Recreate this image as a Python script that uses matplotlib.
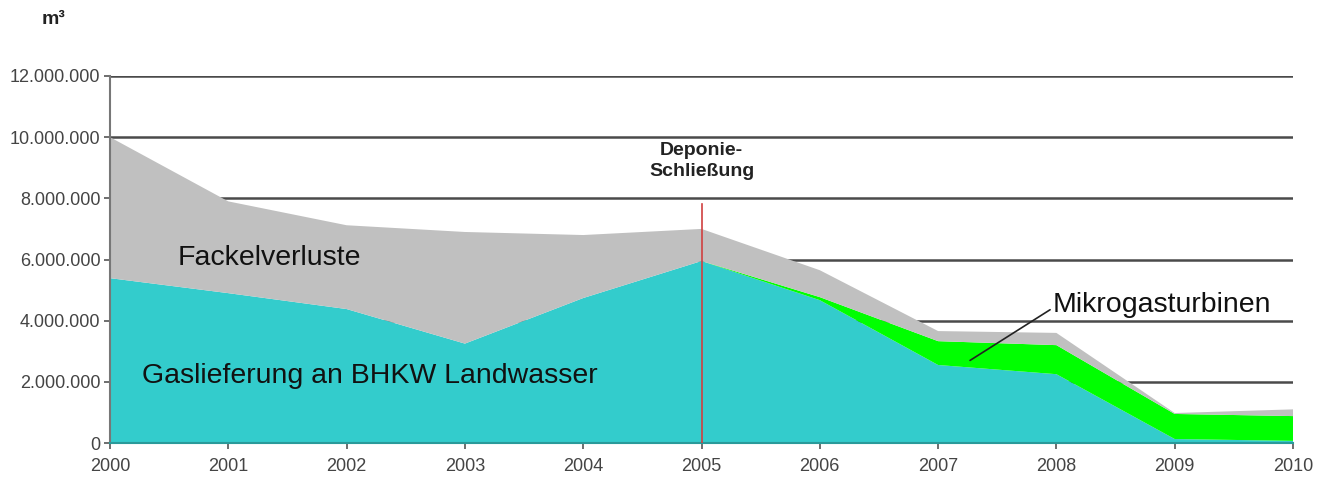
import numpy as np
import matplotlib
matplotlib.use('Agg')
import matplotlib.pyplot as plt
from matplotlib.ticker import FuncFormatter

plt.rcParams['font.family'] = ['Liberation Sans', 'DejaVu Sans']

# data (m³ per year)
years = [2000, 2001, 2002, 2003, 2004, 2005, 2006, 2007, 2008, 2009, 2010]
gaslieferung = [5.39e6, 4.9e6, 4.38e6, 3.25e6, 4.74e6, 5.95e6, 4.67e6, 2.55e6, 2.25e6, 0.13e6, 0.07e6]
mikrogas = [0, 0, 0, 0, 0, 0, 0.1e6, 0.78e6, 0.95e6, 0.82e6, 0.81e6]
gesamt = [10.0e6, 7.9e6, 7.12e6, 6.9e6, 6.8e6, 7.0e6, 5.65e6, 3.66e6, 3.6e6, 0.98e6, 1.1e6]
fackel = [g - a - b for g, a, b in zip(gesamt, gaslieferung, mikrogas)]

yticks = [0, 2e6, 4e6, 6e6, 8e6, 10e6, 12e6]

col_teal = '#33CCCC'
col_green = '#00FF00'
col_grey = '#C0C0C0'

fig = plt.figure(figsize=(13.3, 4.83), dpi=100)
ax = fig.add_axes([110/1330, 1-443/483, (1293-110)/1330, (443-76)/483])

# gridlines behind the areas
for t in yticks[1:]:
    ax.axhline(t, color='#4a4a4a', lw=1.8, zorder=0)

ax.stackplot(years, gaslieferung, mikrogas, fackel,
             colors=[col_teal, col_green, col_grey], lw=0, zorder=1)

ax.set_xlim(2000, 2010)
ax.set_ylim(0, 12e6)
ax.set_xticks(years)
ax.set_yticks(yticks)
ax.yaxis.set_major_formatter(FuncFormatter(lambda v, p: '{:,.0f}'.format(v).replace(',', '.')))
ax.tick_params(axis='both', colors='#555555', labelcolor='#444444', labelsize=13, length=4, width=1.2)
ax.tick_params(axis='x', pad=7)
ax.tick_params(axis='y', pad=3)

for s in ['top', 'right']:
    ax.spines[s].set_visible(False)
ax.spines['left'].set_color('#777777')
ax.spines['left'].set_linewidth(1.5)
ax.spines['bottom'].set_color('#2a9a9a')
ax.spines['bottom'].set_linewidth(1.5)

# Deponie closure marker
ax.plot([2005, 2005], [0, 7.8e6], color='#d04040', lw=1.2, zorder=3)
ax.text(2005, 8.6e6, 'Deponie-\nSchließung', ha='center', va='bottom', fontsize=14,
        fontweight='bold', color='#222222', linespacing=1.3)

ax.text(2000.57, 6.05e6, 'Fackelverluste', fontsize=20.5, color='#111111', va='center')
ax.text(2000.27, 2.2e6, 'Gaslieferung an BHKW Landwasser', fontsize=20.5, color='#111111', va='center')
ax.annotate('Mikrogasturbinen', xy=(2007.27, 2.7e6), xytext=(2007.97, 4.5e6),
            fontsize=20.5, color='#111111', va='center', ha='left',
            arrowprops=dict(arrowstyle='-', color='#222222', lw=1.2, shrinkA=0, shrinkB=0,
                            relpos=(0, 0.4)))

fig.text(42/1330, 1-19/483, 'm³', fontsize=14, fontweight='bold', va='center', ha='left', color='#222222')

fig.savefig('out.png', dpi=100)
